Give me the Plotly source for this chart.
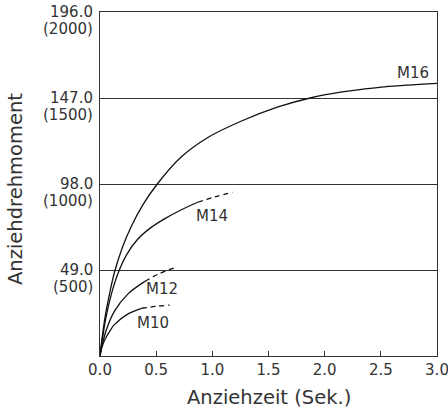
import plotly.graph_objects as go

# Data (time in s, torque in N·m)
m16_t = [0.0, 0.02, 0.05, 0.09, 0.13, 0.2, 0.275, 0.38, 0.51, 0.72, 0.96, 1.26, 1.585, 1.87, 2.14, 2.45, 2.73, 3.0]
m16_v = [0.0, 11, 24, 37, 48, 62, 73.4, 86, 98, 113.2, 124.5, 133.9, 141.9, 147, 150.3, 152.8, 154.3, 155.3]

m14_t = [0.0, 0.02, 0.05, 0.1, 0.16, 0.24, 0.335, 0.45, 0.57, 0.72, 0.87]
m14_v = [0.0, 9, 21, 35, 47, 58, 66.5, 73, 78, 83.2, 87.6]
m14_dash_t = [0.87, 1.02, 1.18]
m14_dash_v = [87.6, 90.6, 93.3]

m12_t = [0.0, 0.02, 0.06, 0.13, 0.25, 0.40]
m12_v = [0.0, 6.5, 15.5, 25.7, 35.4, 42.5]
m12_dash_t = [0.40, 0.53, 0.67]
m12_dash_v = [42.5, 47, 50.3]

m10_t = [0.0, 0.015, 0.045, 0.09, 0.13, 0.25, 0.37]
m10_v = [0.0, 4.5, 9.5, 14.5, 18, 24, 27.2]
m10_dash_t = [0.37, 0.5, 0.62]
m10_dash_v = [27.2, 28.3, 29.0]

labels = ["M16", "M14", "M12", "M10"]
label_t = [2.785, 0.995, 0.55, 0.47]
label_v = [161.2, 79.5, 37.9, 18.8]

y_ticks = [49, 98, 147, 196]
y_tick_nm = ["49.0", "98.0", "147.0", "196.0"]
y_tick_kgf = ["(500)", "(1000)", "(1500)", "(2000)"]
x_ticks = [0, 0.5, 1.0, 1.5, 2.0, 2.5, 3.0]
x_tick_text = ["0.0", "0.5", "1.0", "1.5", "2.0", "2.5", "3.0"]

FONT = "DejaVu Sans"
INK = "#333333"
CURVE = "#111111"

fig = go.Figure()
for t, v in [(m16_t, m16_v), (m14_t, m14_v), (m12_t, m12_v), (m10_t, m10_v)]:
    fig.add_trace(go.Scatter(x=t, y=v, mode="lines",
                             line=dict(color=CURVE, width=1.3, shape="spline", smoothing=1.0),
                             hoverinfo="skip"))
for t, v in [(m14_dash_t, m14_dash_v), (m12_dash_t, m12_dash_v), (m10_dash_t, m10_dash_v)]:
    fig.add_trace(go.Scatter(x=t, y=v, mode="lines",
                             line=dict(color=CURVE, width=1.3, dash="5px,4px", shape="spline"),
                             hoverinfo="skip"))

for name, t, v in zip(labels, label_t, label_v):
    fig.add_annotation(x=t, y=v, text=name, showarrow=False,
                       font=dict(family=FONT, size=15, color=INK))

for val, a, b in zip(y_ticks, y_tick_nm, y_tick_kgf):
    fig.add_annotation(x=0, xref="x", y=val, yref="y", text=a, showarrow=False,
                       xanchor="right", yanchor="middle", xshift=-5, yshift=0,
                       font=dict(family=FONT, size=15, color=INK))
    fig.add_annotation(x=0, xref="x", y=val, yref="y", text=b, showarrow=False,
                       xanchor="right", yanchor="middle", xshift=-5, yshift=-17,
                       font=dict(family=FONT, size=15, color=INK))

fig.add_annotation(x=-85 / 337, xref="paper", y=0.5, yref="paper", yshift=-5,
                   text="Anziehdrehmoment", textangle=-90, showarrow=False, xanchor="center",
                   font=dict(family=FONT, size=19.5, color=INK))
fig.add_annotation(x=0.5, xref="paper", y=(356 - 397) / 344, yref="paper", yanchor="middle",
                   text="Anziehzeit (Sek.)", showarrow=False,
                   font=dict(family=FONT, size=19.5, color=INK))

fig.update_layout(
    width=448, height=410,
    margin=dict(l=100, r=11, t=12, b=54),
    paper_bgcolor="white", plot_bgcolor="white",
    showlegend=False,
    font=dict(family=FONT, size=15, color=INK),
    xaxis=dict(range=[0, 3.0], tickvals=x_ticks, ticktext=x_tick_text,
               ticks="inside", ticklen=5, tickcolor="#333333", tickwidth=1.2,
               ticklabeloverflow="allow", automargin=False,
               showline=True, linecolor="#333333", linewidth=1.3, mirror=True,
               showgrid=False, zeroline=False,
               tickfont=dict(family=FONT, size=15, color=INK)),
    yaxis=dict(range=[0, 196], tickvals=y_ticks, showticklabels=False, automargin=False,
               showline=True, linecolor="#333333", linewidth=1.3, mirror=True,
               showgrid=True, gridcolor="#333333", gridwidth=1.3, zeroline=False),
)

fig.write_html("out.html")
